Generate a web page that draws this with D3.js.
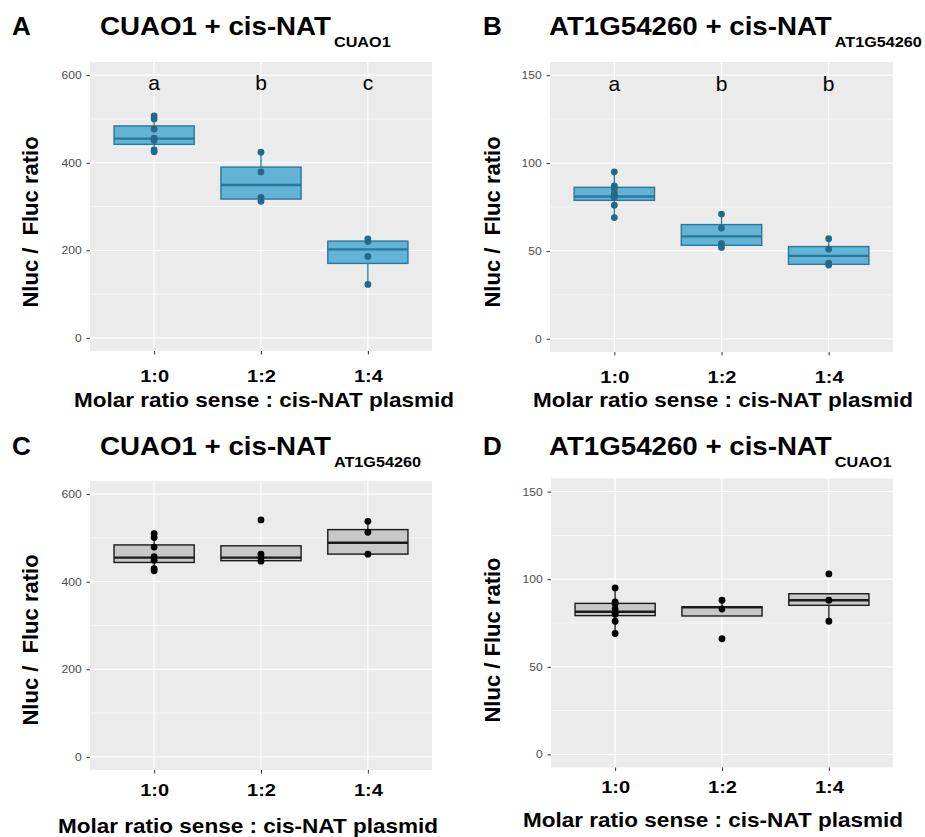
<!DOCTYPE html>
<html>
<head>
<meta charset="utf-8">
<script src="https://cdn.jsdelivr.net/npm/d3@7"></script>
<style>
  body { margin: 0; background: #fff; }
  svg { font-family: "Liberation Sans", Arial, sans-serif; }
  text { white-space: pre; }
</style>
</head>
<body>
<svg width="925" height="837"></svg>
<script>
var categories = ["1:0", "1:2", "1:4"];

// raw points per group
var pointsA = [[507, 500, 477, 456, 451, 429, 425], [424, 379, 321, 312], [226, 220, 186, 122]];
var pointsB = [[95, 87, 85.6, 83, 81.8, 80.5, 76, 69], [71, 63, 54.2, 52], [57, 51, 43, 42]];
var pointsC = [[510, 501, 479, 457, 449, 430, 425], [541, 463, 455, 447], [538, 513, 463]];
var pointsD = [[95, 87, 86, 83, 81, 80, 76, 69], [88, 83, 66], [103, 88, 76]];

// box stats per group: [whisker low, q1, median, q3, whisker high]
var statsA = [[425, 442, 455, 484, 507], [312, 317, 349, 390, 424], [122, 170, 202, 221, 226]];
var statsB = [[69, 78.8, 81, 86.2, 95], [52, 53.2, 58.3, 65, 71], [42, 42.4, 47.2, 52.5, 57]];
var statsC = [[425, 444, 455, 484, 510], [447, 448, 455, 482, 482], [463, 463, 489, 519, 538]];
var statsD = [[69, 79.2, 81.4, 86.2, 95], [79, 79, 83.9, 84.3, 88], [76, 85.1, 88, 91.7, 91.7]];

var lettersA = ["a", "b", "c"];
var lettersB = ["a", "b", "b"];

var ticks600 = [0, 200, 400, 600];
var minor600 = [100, 300, 500];
var ticks150 = [0, 50, 100, 150];
var minor150 = [25, 75, 125];

var svg = d3.select("svg");

function stretched(parent, x, y, str, size, weight, sx, anchor) {
  return parent.append("text")
    .attr("transform", "translate(" + x + "," + y + ") scale(" + sx + ",1)")
    .attr("text-anchor", anchor || "start")
    .style("font-size", size + "px")
    .style("font-weight", weight)
    .text(str);
}

function drawPanel(p) {
  var x = d3.scalePoint().domain(categories).range([p.x, p.x + p.w]).padding(0.6);
  var y = d3.scaleLinear().domain(p.domain).range([p.y + p.h, p.y]);
  var bw = x.step() * 0.75;
  var g = svg.append("g");

  // panel + grid
  g.append("rect").attr("x", p.x).attr("y", p.y).attr("width", p.w).attr("height", p.h).attr("fill", "#ebebeb");
  g.selectAll(".minor").data(p.minor).enter().append("line")
    .attr("x1", p.x).attr("x2", p.x + p.w).attr("y1", d => y(d)).attr("y2", d => y(d))
    .attr("stroke", "#fff").attr("stroke-width", 0.6);
  g.selectAll(".major").data(p.ticks).enter().append("line")
    .attr("x1", p.x).attr("x2", p.x + p.w).attr("y1", d => y(d)).attr("y2", d => y(d))
    .attr("stroke", "#fff").attr("stroke-width", 1.2);
  g.selectAll(".vmajor").data(categories).enter().append("line")
    .attr("x1", d => x(d)).attr("x2", d => x(d)).attr("y1", p.y).attr("y2", p.y + p.h)
    .attr("stroke", "#fff").attr("stroke-width", 1.2);

  // axes
  var ya = g.append("g").attr("transform", "translate(" + p.x + ",0)")
    .call(d3.axisLeft(y).tickValues(p.ticks).tickSize(3.5).tickPadding(4));
  ya.select(".domain").remove();
  ya.selectAll("line").attr("stroke", "#333");
  ya.selectAll("text").style("font-size", "11px").attr("fill", "#4d4d4d")
    .attr("transform", "scale(1.1,1)");

  var xa = g.append("g").attr("transform", "translate(0," + (p.y + p.h) + ")")
    .call(d3.axisBottom(x).tickSize(3.5));
  xa.select(".domain").remove();
  xa.selectAll("line").attr("stroke", "#333");
  xa.selectAll("text").style("font-size", "17px").style("font-weight", "bold").attr("fill", "#000")
    .attr("y", p.tickY).attr("dy", 0).attr("transform", "scale(1.18,1)");

  // boxes
  var groups = g.selectAll(".box").data(p.stats).enter().append("g");
  groups.append("line")
    .attr("x1", (d, i) => x(categories[i])).attr("x2", (d, i) => x(categories[i]))
    .attr("y1", d => y(d[3])).attr("y2", d => y(d[4]))
    .attr("stroke", p.line).attr("stroke-width", 1.3);
  groups.append("line")
    .attr("x1", (d, i) => x(categories[i])).attr("x2", (d, i) => x(categories[i]))
    .attr("y1", d => y(d[1])).attr("y2", d => y(d[0]))
    .attr("stroke", p.line).attr("stroke-width", 1.3);
  groups.append("rect")
    .attr("x", (d, i) => x(categories[i]) - bw / 2).attr("width", bw)
    .attr("y", d => y(d[3])).attr("height", d => y(d[1]) - y(d[3]))
    .attr("fill", p.fill).attr("stroke", p.line).attr("stroke-width", 1.4);
  groups.append("line")
    .attr("x1", (d, i) => x(categories[i]) - bw / 2).attr("x2", (d, i) => x(categories[i]) + bw / 2)
    .attr("y1", d => y(d[2])).attr("y2", d => y(d[2]))
    .attr("stroke", p.line).attr("stroke-width", 2.4);

  // points
  p.points.forEach(function (vals, i) {
    g.selectAll(null).data(vals).enter().append("circle")
      .attr("cx", x(categories[i])).attr("cy", d => y(d)).attr("r", 3.4)
      .attr("fill", p.dot);
  });

  // significance letters
  if (p.letters) {
    g.selectAll(".let").data(p.letters).enter().append("text")
      .attr("x", (d, i) => x(categories[i])).attr("y", y(p.letterY))
      .attr("text-anchor", "middle").style("font-size", "21px").text(d => d);
  }

  // titles
  stretched(svg, p.tagX, p.titleY, p.tag, 26, "bold", 1);
  var t = stretched(svg, p.titleX, p.titleY, p.title, 26, "bold", 1.065);
  var tw = t.node().getComputedTextLength() * 1.065;
  stretched(svg, p.titleX + tw + 3, p.titleY + 12, p.sub, 15, "bold", 1.08);

  stretched(svg, p.xlabX, p.xlabY, "Molar ratio sense : cis-NAT plasmid", 20, "bold", 1.127, "middle");
  svg.append("text")
    .attr("transform", "translate(" + p.ylabX + "," + p.ylabY + ") rotate(-90)")
    .attr("text-anchor", "middle").style("font-size", "22px").style("font-weight", "bold")
    .text(p.ylab);
}

drawPanel({x: 90, y: 62, w: 342, h: 289, domain: [-30, 630], ticks: ticks600, minor: minor600,
  stats: statsA, points: pointsA, letters: lettersA, letterY: 565, tickY: 31,
  fill: "#62b3d6", line: "#2a7899", dot: "#22698a",
  tag: "A", tagX: 12, titleX: 100, titleY: 35, title: "CUAO1 + cis-NAT", sub: "CUAO1",
  xlabX: 264, xlabY: 407, ylabX: 38, ylabY: 222, ylab: "Nluc /  Fluc ratio"});

drawPanel({x: 550, y: 62, w: 343, h: 290, domain: [-7.5, 157.5], ticks: ticks150, minor: minor150,
  stats: statsB, points: pointsB, letters: lettersB, letterY: 141, tickY: 31,
  fill: "#62b3d6", line: "#2a7899", dot: "#22698a",
  tag: "B", tagX: 483, titleX: 549, titleY: 35, title: "AT1G54260 + cis-NAT", sub: "AT1G54260",
  xlabX: 723, xlabY: 407, ylabX: 500, ylabY: 222, ylab: "Nluc /  Fluc ratio"});

drawPanel({x: 90, y: 481, w: 342, h: 289, domain: [-30, 630], ticks: ticks600, minor: minor600,
  stats: statsC, points: pointsC, tickY: 26,
  fill: "#c8c8c8", line: "#1a1a1a", dot: "#000",
  tag: "C", tagX: 12, titleX: 100, titleY: 455, title: "CUAO1 + cis-NAT", sub: "AT1G54260",
  xlabX: 248, xlabY: 833, ylabX: 38, ylabY: 640, ylab: "Nluc /  Fluc ratio"});

drawPanel({x: 551, y: 478.5, w: 342, h: 289, domain: [-7.5, 157.5], ticks: ticks150, minor: minor150,
  stats: statsD, points: pointsD, tickY: 26,
  fill: "#c8c8c8", line: "#1a1a1a", dot: "#000",
  tag: "D", tagX: 483, titleX: 549, titleY: 455, title: "AT1G54260 + cis-NAT", sub: "CUAO1",
  xlabX: 713, xlabY: 827, ylabX: 500, ylabY: 640, ylab: "Nluc / Fluc ratio"});
</script>
</body>
</html>
